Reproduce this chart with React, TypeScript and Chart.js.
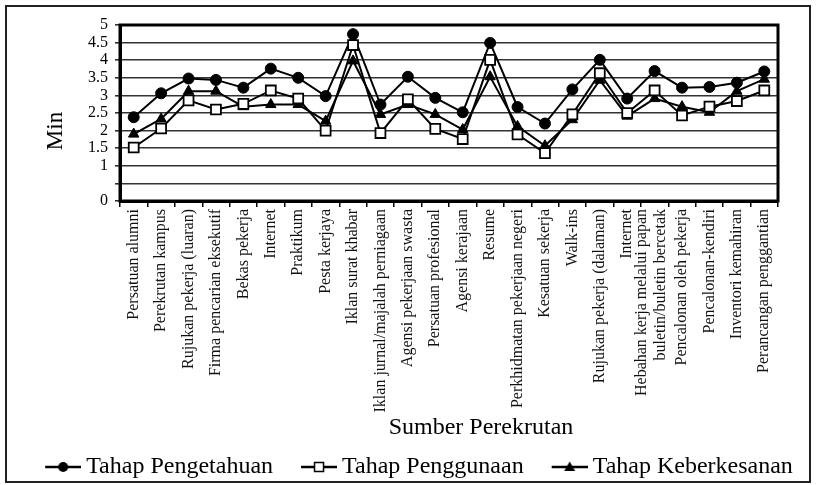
import React, { useEffect, useRef } from "react";
import { Chart, registerables } from "chart.js";

Chart.register(...registerables);

const categories: (string | string[])[] = [
  "Persatuan alumni",
  "Perekrutan kampus",
  "Rujukan pekerja (luaran)",
  "Firma pencarian eksekutif",
  "Bekas pekerja",
  "Internet",
  "Praktikum",
  "Pesta kerjaya",
  "Iklan surat khabar",
  "Iklan jurnal/majalah perniagaan",
  "Agensi pekerjaan swasta",
  "Persatuan profesional",
  "Agensi kerajaan",
  "Resume",
  "Perkhidmatan pekerjaan negeri",
  "Kesatuan sekerja",
  "Walk-ins",
  "Rujukan pekerja (dalaman)",
  "Internet",
  ["Hebahan kerja melalui papan", "buletin/buletin bercetak"],
  "Pencalonan oleh pekerja",
  "Pencalonan-kendiri",
  "Inventori kemahiran",
  "Perancangan penggantian",
];

const tahapPengetahuan = [2.38, 3.06, 3.48, 3.44, 3.22, 3.76, 3.5, 2.98, 4.74, 2.74, 3.53, 2.93, 2.52, 4.49, 2.67, 2.2, 3.17, 4.01, 2.91, 3.69, 3.22, 3.24, 3.36, 3.68];
const tahapPenggunaan = [1.52, 2.06, 2.86, 2.6, 2.76, 3.14, 2.91, 2.0, 4.43, 1.93, 2.89, 2.05, 1.76, 4.01, 1.89, 1.36, 2.46, 3.63, 2.5, 3.14, 2.43, 2.68, 2.84, 3.14];
const tahapKeberkesanan = [1.9, 2.33, 3.12, 3.12, 2.68, 2.74, 2.74, 2.27, 3.98, 2.46, 2.74, 2.46, 2.03, 3.53, 2.12, 1.57, 2.31, 3.43, 2.41, 2.91, 2.68, 2.52, 3.12, 3.46];

const seriesNames = ["Tahap Pengetahuan", "Tahap Penggunaan", "Tahap Keberkesanan"];
const yTickValues = [0, 0.5, 1, 1.5, 2, 2.5, 3, 3.5, 4, 4.5, 5];
const yTickLabels = ["0", "", "1", "1.5", "2", "2.5", "3", "3.5", "4", "4.5", "5"];
const yTitle = "Min";
const xTitle = "Sumber Perekrutan";

const FONT = "'Liberation Serif', 'DejaVu Serif', serif";

function makeLegendMarker(kind: string): HTMLCanvasElement {
  const c = document.createElement("canvas");
  c.width = 61;
  c.height = 20;
  const ctx = c.getContext("2d")!;
  ctx.strokeStyle = "#000";
  ctx.lineWidth = 2.5;
  ctx.beginPath();
  ctx.moveTo(25, 10);
  ctx.lineTo(61, 10);
  ctx.stroke();
  const cx = 43;
  const cy = 10;
  ctx.lineWidth = 1.5;
  if (kind === "circle") {
    ctx.fillStyle = "#000";
    ctx.beginPath();
    ctx.arc(cx, cy, 5, 0, Math.PI * 2);
    ctx.fill();
  } else if (kind === "rect") {
    ctx.fillStyle = "#fff";
    ctx.fillRect(cx - 4.5, cy - 4.5, 9, 9);
    ctx.strokeRect(cx - 4.5, cy - 4.5, 9, 9);
  } else {
    ctx.fillStyle = "#000";
    ctx.beginPath();
    ctx.moveTo(cx, cy - 5.5);
    ctx.lineTo(cx + 5.5, cy + 4);
    ctx.lineTo(cx - 5.5, cy + 4);
    ctx.closePath();
    ctx.fill();
  }
  return c;
}

const decorPlugin = {
  id: "decor",
  afterLayout(chart: any) {
    // centre multi-line (rotated) category labels on their tick
    const sx = chart.scales.x;
    const items = sx.getLabelItems();
    items.forEach((it: any) => {
      if (Array.isArray(it.label) && it.label.length > 1) {
        it.options.translation[0] -= 13;
      }
    });
  },
  beforeDraw(chart: any) {
    const ctx = chart.ctx;
    ctx.save();
    ctx.fillStyle = "#fff";
    ctx.fillRect(0, 0, chart.width, chart.height);
    ctx.strokeStyle = "#222";
    ctx.lineWidth = 2;
    ctx.strokeRect(6, 6, 804, 476);
    ctx.restore();
  },
  beforeDatasetsDraw(chart: any) {
    const { ctx, chartArea: a } = chart;
    ctx.save();
    ctx.strokeStyle = "#000";
    ctx.lineWidth = 3;
    ctx.strokeRect(a.left, a.top, a.right - a.left, a.bottom - a.top);
    ctx.restore();
  },
  afterDraw(chart: any) {
    const { ctx, chartArea: a } = chart;
    ctx.save();
    ctx.fillStyle = "#000";
    ctx.textAlign = "center";
    ctx.textBaseline = "middle";
    ctx.font = `24px ${FONT}`;
    ctx.fillText(xTitle, (a.left + a.right) / 2 + 32, 428);
    ctx.translate(56, (a.top + a.bottom) / 2 + 18);
    ctx.rotate(-Math.PI / 2);
    ctx.font = `23px ${FONT}`;
    ctx.fillText(yTitle, 0, 0);
    ctx.restore();
  },
};

export default function App() {
  const ref = useRef<HTMLCanvasElement>(null);

  useEffect(() => {
    if (!ref.current) return;
    const markers = [makeLegendMarker("circle"), makeLegendMarker("rect"), makeLegendMarker("triangle")];
    const chart = new Chart(ref.current, {
      type: "line",
      data: {
        labels: categories,
        datasets: [
          {
            label: seriesNames[0],
            data: tahapPengetahuan,
            borderColor: "#000",
            borderWidth: 2,
            pointStyle: "circle",
            pointRadius: 5.5,
            pointBackgroundColor: "#000",
            pointBorderColor: "#000",
            pointBorderWidth: 1,
            tension: 0,
            order: 1,
          },
          {
            label: seriesNames[1],
            data: tahapPenggunaan,
            borderColor: "#000",
            borderWidth: 2,
            pointStyle: "rect",
            pointRadius: 7,
            pointBackgroundColor: "#fff",
            pointBorderColor: "#000",
            pointBorderWidth: 1.8,
            tension: 0,
            order: 0,
          },
          {
            label: seriesNames[2],
            data: tahapKeberkesanan,
            borderColor: "#000",
            borderWidth: 2,
            pointStyle: "triangle",
            pointRadius: 6,
            pointBackgroundColor: "#000",
            pointBorderColor: "#000",
            pointBorderWidth: 1,
            tension: 0,
            order: 2,
          },
        ],
      },
      options: {
        animation: false,
        responsive: false,
        devicePixelRatio: 1,
        layout: { padding: { top: 25, left: 0, right: 0, bottom: -4 } },
        plugins: {
          tooltip: { enabled: false },
          title: { display: false },
          legend: {
            display: true,
            position: "bottom",
            labels: {
              color: "#000",
              font: { family: FONT, size: 24 },
              usePointStyle: true,
              pointStyleWidth: 47,
              padding: 10,
              generateLabels: () =>
                seriesNames.map((name, i) => ({
                  text: name,
                  pointStyle: markers[i] as any,
                  fillStyle: "#000",
                  strokeStyle: "#000",
                  lineWidth: 0,
                  hidden: false,
                  datasetIndex: i,
                  fontColor: "#000",
                })),
            },
          },
        },
        scales: {
          x: {
            type: "category",
            offset: true,
            afterFit: (s: any) => {
              s.height = 244;
            },
            grid: {
              offset: true,
              drawOnChartArea: false,
              drawTicks: true,
              tickLength: 6,
              color: "#000",
              lineWidth: 1.5,
            },
            border: { display: true, color: "#000", width: 3 },
            ticks: {
              autoSkip: false,
              maxRotation: 90,
              minRotation: 90,
              padding: 2,
              color: "#111",
              font: { family: FONT, size: 16 },
            },
          },
          y: {
            type: "linear",
            position: "left",
            min: 0,
            max: 5,
            afterFit: (s: any) => {
              s.width = 120;
            },
            afterBuildTicks: (s: any) => {
              s.ticks = yTickValues.map((v) => ({ value: v }));
            },
            grid: {
              color: "#333",
              lineWidth: 1.6,
              drawTicks: true,
              tickLength: 5,
            },
            border: { display: true, color: "#000", width: 3 },
            ticks: {
              autoSkip: false,
              padding: 7,
              color: "#000",
              font: { family: FONT, size: 16 },
              callback: (_v: any, i: number) => yTickLabels[i],
            },
          },
          yRight: {
            type: "linear",
            position: "right",
            display: true,
            afterFit: (s: any) => {
              s.width = 42;
            },
            grid: { display: false, drawTicks: false },
            border: { display: false },
            ticks: { display: false },
          },
        },
      },
      plugins: [decorPlugin],
    });
    return () => chart.destroy();
  }, []);

  return (
    <div style={{ position: "absolute", left: 0, top: 0, width: 820, height: 485 }}>
      <canvas ref={ref} width={820} height={485} style={{ display: "block", width: 820, height: 485 }} />
    </div>
  );
}
